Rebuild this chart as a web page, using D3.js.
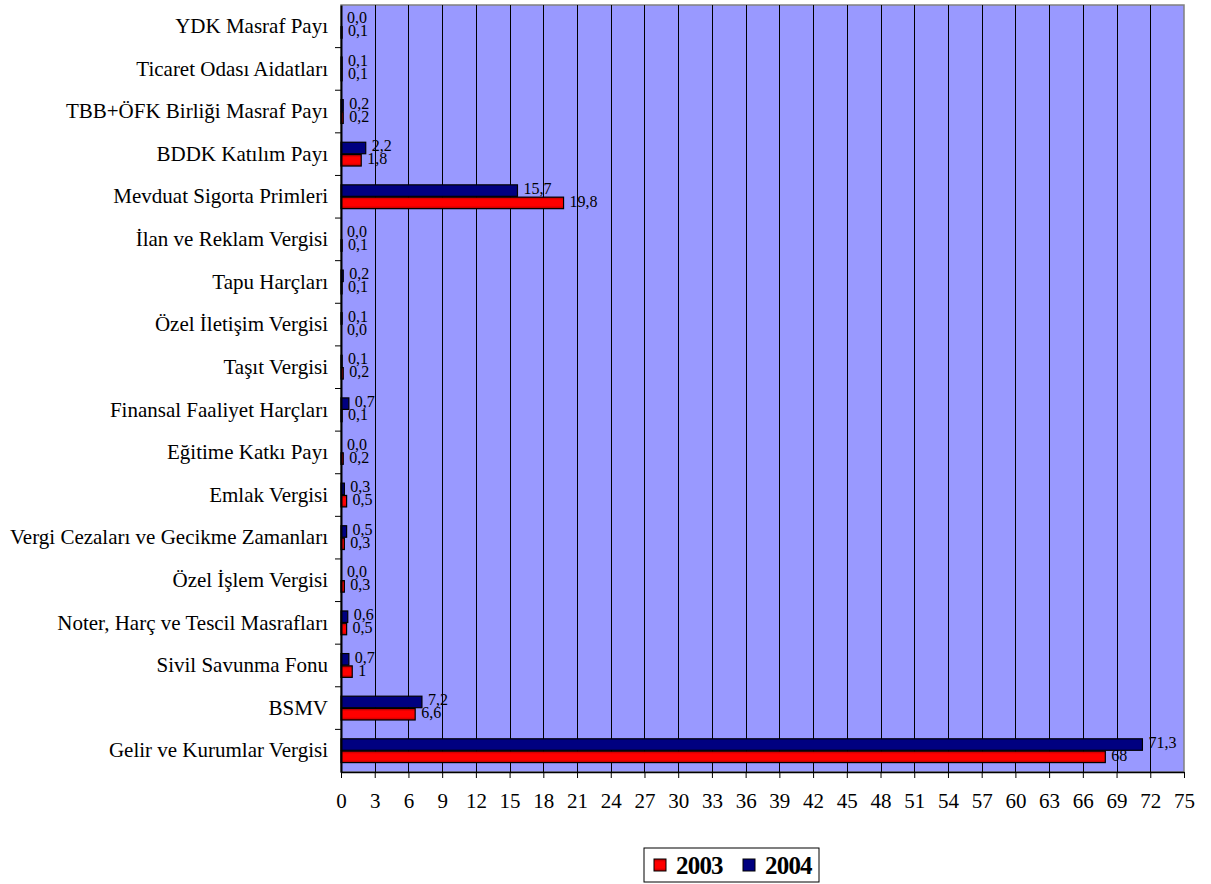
<!DOCTYPE html>
<html>
<head>
<meta charset="utf-8">
<script src="https://cdn.jsdelivr.net/npm/d3@7"></script>
<style>
  html, body { margin: 0; padding: 0; background: #fff; }
  svg { display: block; font-family: "Liberation Serif", "Times New Roman", serif; }
</style>
</head>
<body>
<svg id="chart" width="1211" height="884"></svg>
<script>
// Categories, top to bottom
const categories = [
  "YDK Masraf Payı",
  "Ticaret Odası Aidatları",
  "TBB+ÖFK Birliği Masraf Payı",
  "BDDK Katılım Payı",
  "Mevduat Sigorta Primleri",
  "İlan ve Reklam Vergisi",
  "Tapu Harçları",
  "Özel İletişim Vergisi",
  "Taşıt Vergisi",
  "Finansal Faaliyet Harçları",
  "Eğitime Katkı Payı",
  "Emlak Vergisi",
  "Vergi Cezaları ve Gecikme Zamanları",
  "Özel İşlem Vergisi ",
  "Noter, Harç ve Tescil Masrafları",
  "Sivil Savunma Fonu",
  "BSMV",
  "Gelir ve Kurumlar Vergisi"
];

// Shares (%) as printed on the bars; bar lengths are parsed from these
const values2003 = ["0,1","0,1","0,2","1,8","19,8","0,1","0,1","0,0","0,2","0,1","0,2","0,5","0,3","0,3","0,5","1","6,6","68"];
const values2004 = ["0,0","0,1","0,2","2,2","15,7","0,0","0,2","0,1","0,1","0,7","0,0","0,3","0,5","0,0","0,6","0,7","7,2","71,3"];

const xTicks = d3.range(0, 76, 3);
const seriesNames = ["2003", "2004"];
const seriesColors = ["#FF0000", "#000080"];

const num = s => parseFloat(s.replace(",", "."));

const svg = d3.select("#chart");
const plot = { left: 341, right: 1184, top: 5, bottom: 772 };

const x = d3.scaleLinear().domain([0, 75]).range([plot.left, plot.right]);
const y = d3.scaleBand().domain(categories).range([plot.top, plot.bottom]).paddingInner(0).paddingOuter(0);

const step = y.bandwidth();
const barH = 11.5;
const barGap = 0.8;

// Plot background
svg.append("rect")
  .attr("x", plot.left).attr("y", plot.top)
  .attr("width", plot.right - plot.left).attr("height", plot.bottom - plot.top)
  .attr("fill", "#9999FF")
  .attr("stroke", "#808080").attr("stroke-width", 1.5);

// Vertical gridlines
svg.append("g").selectAll("line")
  .data(xTicks.filter(t => t > 0 && t < 75))
  .join("line")
  .attr("x1", d => Math.round(x(d)) + 0.5).attr("x2", d => Math.round(x(d)) + 0.5)
  .attr("y1", plot.top).attr("y2", plot.bottom)
  .attr("stroke", "#000").attr("stroke-width", 1);

// Bars
const defs = svg.append("defs");
const gradRed = defs.append("linearGradient").attr("id", "gRed").attr("x1", 0).attr("y1", 0).attr("x2", 0).attr("y2", 1);
gradRed.append("stop").attr("offset", "0%").attr("stop-color", "#B00000");
gradRed.append("stop").attr("offset", "25%").attr("stop-color", "#FF0000");
gradRed.append("stop").attr("offset", "75%").attr("stop-color", "#FF0000");
gradRed.append("stop").attr("offset", "100%").attr("stop-color", "#B00000");

const rows = categories.map((c, i) => ({ c, v03: values2003[i], v04: values2004[i] }));

const bars = svg.append("g");
rows.forEach(r => {
  const yc = y(r.c) + step / 2;
  // 2004 (upper bar)
  bars.append("rect")
    .attr("x", x(0)).attr("y", yc - barH - barGap / 2)
    .attr("width", Math.max(0, x(num(r.v04)) - x(0))).attr("height", barH)
    .attr("fill", seriesColors[1]).attr("stroke", "#000").attr("stroke-width", 1.2);
  // 2003 (lower bar)
  bars.append("rect")
    .attr("x", x(0)).attr("y", yc + barGap / 2)
    .attr("width", Math.max(0, x(num(r.v03)) - x(0))).attr("height", barH)
    .attr("fill", "url(#gRed)").attr("stroke", "#000").attr("stroke-width", 1.2);
});

// Value labels
const labels = svg.append("g").attr("font-size", 16).attr("fill", "#000");
rows.forEach(r => {
  const yc = y(r.c) + step / 2;
  labels.append("text")
    .attr("x", x(num(r.v04)) + 6).attr("y", yc - 6.5)
    .attr("dominant-baseline", "middle").text(r.v04);
  labels.append("text")
    .attr("x", x(num(r.v03)) + 6).attr("y", yc + 6.5)
    .attr("dominant-baseline", "middle").text(r.v03);
});

// Y axis
const yAxis = svg.append("g").attr("transform", `translate(${plot.left},0)`)
  .call(d3.axisLeft(y).tickSize(0).tickPadding(13).tickSizeOuter(0));
yAxis.select(".domain").attr("stroke", "#000").attr("stroke-width", 2);
yAxis.selectAll("text").attr("font-size", 21).attr("font-family", "Liberation Serif, serif").attr("fill", "#000");
// Category separator ticks
svg.append("g").selectAll("line")
  .data(categories.slice(1))
  .join("line")
  .attr("x1", plot.left - 6).attr("x2", plot.left)
  .attr("y1", d => y(d)).attr("y2", d => y(d))
  .attr("stroke", "#000");

// X axis
const xAxis = svg.append("g").attr("transform", `translate(0,${plot.bottom})`)
  .call(d3.axisBottom(x).tickValues(xTicks).tickSize(6).tickPadding(15).tickSizeOuter(0));
xAxis.select(".domain").attr("stroke", "#000").attr("stroke-width", 1.5);
xAxis.selectAll(".tick line").attr("stroke", "#000");
xAxis.selectAll("text").attr("font-size", 21).attr("font-family", "Liberation Serif, serif").attr("fill", "#000");

// Legend
const lg = svg.append("g").attr("transform", "translate(644,848)");
lg.append("rect").attr("width", 175).attr("height", 34)
  .attr("fill", "#fff").attr("stroke", "#000").attr("stroke-width", 1);
const items = [
  { name: seriesNames[0], fill: "url(#gRed)", x: 10 },
  { name: seriesNames[1], fill: seriesColors[1], x: 99 }
];
items.forEach(it => {
  lg.append("rect").attr("x", it.x).attr("y", 11).attr("width", 12).attr("height", 12)
    .attr("fill", it.fill).attr("stroke", "#000").attr("stroke-width", 1);
  lg.append("text").attr("x", it.x + 22).attr("y", 26)
    .attr("font-size", 25).attr("font-weight", "bold").attr("letter-spacing", -0.8).text(it.name);
});
</script>
</body>
</html>
